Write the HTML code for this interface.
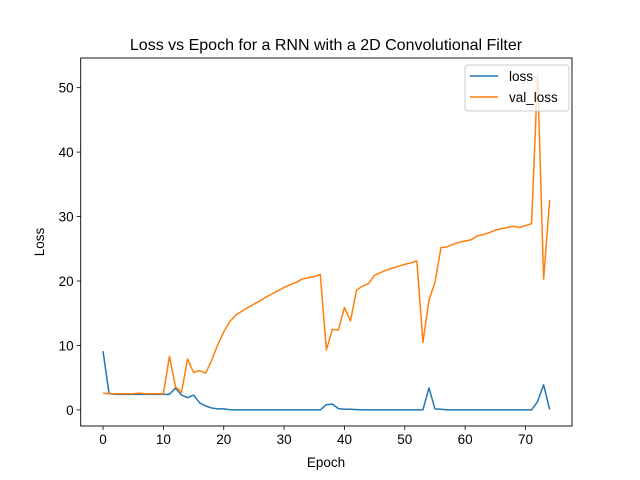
<!DOCTYPE html>
<html><head><meta charset="utf-8"><style>body{margin:0;background:#fff}svg{display:block;font-family:"Liberation Sans","DejaVu Sans",sans-serif}</style></head>
<body>
<svg id="chart" width="640" height="480" xmlns="http://www.w3.org/2000/svg">
<rect width="640" height="480" fill="#fff"/>
<text x="326" y="50" text-anchor="middle" font-size="16">Loss vs Epoch for a RNN with a 2D Convolutional Filter</text>
<g id="plot"></g>
<rect x="80.7" y="58" width="491.3" height="368" fill="none" stroke="#000" stroke-width="0.9"/>
<text x="326" y="467" text-anchor="middle" font-size="13.5">Epoch</text>
<text transform="translate(44,242) rotate(-90)" text-anchor="middle" font-size="13.5">Loss</text>
<g>
<rect x="465" y="65" width="104" height="46" rx="3" fill="#fff" fill-opacity="0.8" stroke="#ccc"/>
<line x1="470" y1="76" x2="498" y2="76" stroke="#1f77b4" stroke-width="1.5"/>
<text x="509" y="81" font-size="13.5">loss</text>
<line x1="470" y1="97" x2="498" y2="97" stroke="#ff7f0e" stroke-width="1.5"/>
<text x="509" y="102" font-size="13.5">val_loss</text>
</g>
</svg>
<script>
const epochs=[];for(let i=0;i<75;i++)epochs.push(i);
const lossValues=[9.1,2.5,2.4,2.4,2.4,2.4,2.4,2.4,2.4,2.4,2.4,2.4,3.4,2.3,1.9,2.3,1.1,0.6,0.3,0.15,0.15,0.02,0,0,0,0,0,0,0,0,0,0,0,0,0,0,0,0.8,0.9,0.2,0.1,0.1,0.05,0,0,0,0,0,0,0,0,0,0,0,3.4,0.15,0.1,0,0,0,0,0,0,0,0,0,0,0,0,0,0,0,1.3,3.9,0.05];
const valLossValues=[2.6,2.5,2.5,2.5,2.5,2.5,2.6,2.5,2.5,2.5,2.5,8.3,3.6,2.7,7.9,5.8,6.1,5.7,7.7,10.1,12.1,13.7,14.7,15.3,15.9,16.4,16.9,17.5,18.0,18.5,19.0,19.4,19.8,20.3,20.5,20.7,21.0,9.3,12.5,12.4,15.9,13.8,18.6,19.2,19.6,20.9,21.3,21.7,22.0,22.3,22.6,22.8,23.1,10.5,17.0,19.8,25.2,25.3,25.7,26.0,26.2,26.4,27.0,27.2,27.5,27.9,28.1,28.3,28.5,28.3,28.6,28.9,51.9,20.3,32.6];
const xTicks=[0,10,20,30,40,50,60,70];
const yTicks=[0,10,20,30,40,50];
const L=80.7,R=572,T=58,B=426,xmin=-3.7,xmax=77.7,ymin=-2.5,ymax=54.6;
const xs=v=>L+(v-xmin)/(xmax-xmin)*(R-L);
const ys=v=>B-(v-ymin)/(ymax-ymin)*(B-T);
const NS="http://www.w3.org/2000/svg",g=document.getElementById('plot');
function mk(t,a){const e=document.createElementNS(NS,t);for(const k in a)e.setAttribute(k,a[k]);g.appendChild(e);return e;}
xTicks.forEach(t=>{
 const l=mk('line',{x1:xs(t),x2:xs(t),y1:B,y2:B+4,stroke:'#000','stroke-width':0.8});
 
 
 const tx=mk('text',{x:xs(t),y:B+18,'text-anchor':'middle','font-size':13.5});tx.textContent=t;
 
 
});
yTicks.forEach(t=>{
 const l=mk('line',{x1:L-4,x2:L,y1:ys(t),y2:ys(t),stroke:'#000','stroke-width':0.8});
 
 
 const tx=mk('text',{x:L-7,y:ys(t)+5,'text-anchor':'end','font-size':13.5});tx.textContent=t;
 
 
});
function line(vals,color,name){
 const p=mk('polyline',{points:vals.map((v,i)=>xs(epochs[i])+','+ys(v)).join(' '),fill:'none',stroke:color,'stroke-width':1.5,'stroke-linejoin':'round'});
 
 
}
line(lossValues,'#1f77b4','loss-line');
line(valLossValues,'#ff7f0e','val-loss-line');
</script>
</body></html>
